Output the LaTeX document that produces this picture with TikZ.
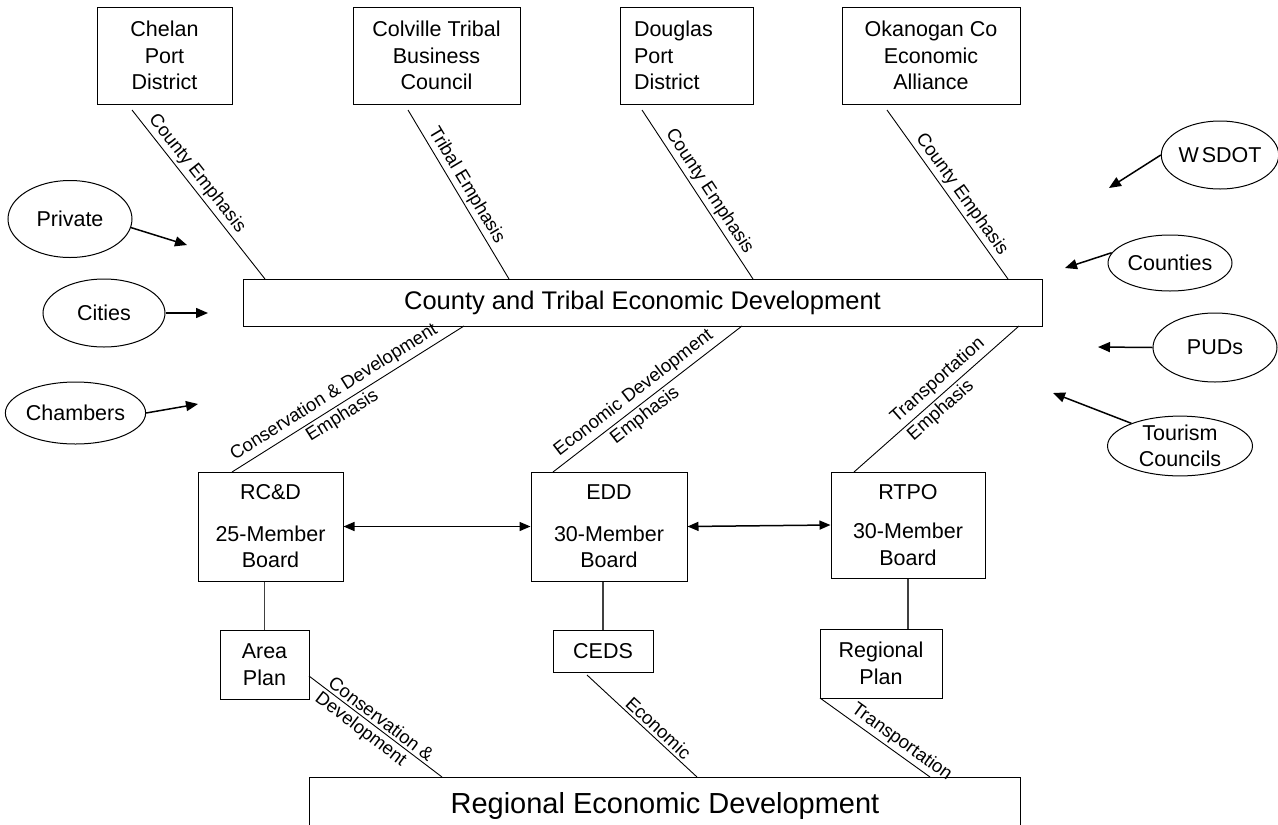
\documentclass[tikz,border=0pt]{standalone}
\usepackage{fontspec}
\setmainfont{Liberation Sans}
\usetikzlibrary{arrows.meta,shapes.geometric}
\newcommand\boxfont{\fontsize{21.5}{26.5}\selectfont}
\newcommand\labfont{\fontsize{18.5}{21}\selectfont}
\newcommand\mainfont{\fontsize{25.5}{30}\selectfont}
\newcommand\regfont{\fontsize{29}{34}\selectfont}
\begin{document}
\begin{tikzpicture}[x=1pt,y=-1pt,
  rbox/.style={draw, line width=1pt, align=center, font=\boxfont, inner sep=0pt},
  oval/.style={draw, ellipse, line width=1pt, align=center, font=\boxfont, inner sep=0pt},
  ln/.style={line width=0.9pt},
  vln/.style={line width=1.2pt, draw=black!75},
  arr/.style={line width=1.5pt, -{Triangle[length=12pt,width=10pt]}},
  darr/.style={line width=1.5pt, {Triangle[length=11pt,width=9pt]}-{Triangle[length=11pt,width=9pt]}},
  lab/.style={font=\labfont, sloped, inner sep=2.5pt}]
\useasboundingbox (0,0) rectangle (1278,825);
\clip (0,0) rectangle (1278,825);

% top boxes
\node[rbox, minimum width=135, minimum height=97] (chelan) at (164.5,55.5) {Chelan\\Port\\District};
\node[rbox, minimum width=167, minimum height=97] (colville) at (436.5,55.5) {Colville Tribal\\Business\\Council};
\node[rbox, minimum width=133, minimum height=97, text width=105, align=left] (douglas) at (686.5,55.5) {Douglas\\Port\\District};
\node[rbox, minimum width=178, minimum height=97] (okanogan) at (931,55.5) {Okanogan Co\\Economic\\Alliance};

% main box
\node[rbox, font=\mainfont, minimum width=799, minimum height=47] (main) at (642.5,302.5) {County and Tribal Economic Development};

% middle boxes
\node[rbox, minimum width=145, minimum height=109] (rcd) at (270.5,526.5) {RC\&D\\[15pt]25-Member\\Board};
\node[rbox, minimum width=156, minimum height=109] (edd) at (609,526.5) {EDD\\[15pt]30-Member\\Board};
\node[rbox, minimum width=154, minimum height=106] (rtpo) at (908,525) {RTPO\\[13pt]30-Member\\Board};

% plan boxes
\node[rbox, minimum width=89, minimum height=69] (area) at (264.5,664.5) {Area\\Plan};
\node[rbox, minimum width=100, minimum height=42] (ceds) at (603,651) {CEDS};
\node[rbox, minimum width=122, minimum height=69] (rplan) at (881,663.5) {Regional\\Plan};

% regional box
\node[rbox, font=\regfont, minimum width=711, minimum height=56, anchor=north west] (reg) at (309,777) {Regional Economic Development};

% ellipses
\node[oval, minimum width=124, minimum height=77] (private) at (70,219) {Private};
\node[oval, minimum width=122, minimum height=68] (cities) at (104,313) {Cities};
\node[oval, minimum width=135, minimum height=62] (chambers) at (75.5,413) {Chambers};
\node[oval, minimum width=112, minimum height=68] (wsdot) at (1220,155) {W\kern3pt SDOT};
\node[oval, minimum width=124, minimum height=56] (counties) at (1170,263) {Counties};
\node[oval, minimum width=124, minimum height=69] (puds) at (1215,347.5) {PUDs};
\node[oval, minimum width=145, minimum height=58] (tourism) at (1180,446) {Tourism\\Councils};

% arrow free ends
\coordinate (pa) at (187,245);
\coordinate (ca) at (208,313);
\coordinate (cha) at (198,404);
\coordinate (wa) at (1109,188);
\coordinate (coa) at (1065,268);
\coordinate (pua) at (1098,347);
\coordinate (ta) at (1053,393);

\draw[arr] (private.-8) -- (pa);
\draw[arr] (cities.east) -- (ca);
\draw[arr] (chambers.east) -- (cha);
\draw[arr] (wsdot.west) -- (wa);
\draw[arr] (counties.170) -- (coa);
\draw[arr] (puds.west) -- (pua);
\draw[arr] (tourism.155) -- (ta);

% top fishbone lines
\coordinate (c1a) at (132,110); \coordinate (c1b) at (265,279);
\coordinate (c2a) at (408,110); \coordinate (c2b) at (509,279);
\coordinate (c3a) at (642,110); \coordinate (c3b) at (753,279);
\coordinate (c4a) at (887,110); \coordinate (c4b) at (1008,279);
\draw[ln] (c1a) -- node[lab, above, pos=0.42] {County Emphasis} (c1b);
\draw[ln] (c2a) -- node[lab, above, pos=0.48] {Tribal Emphasis} (c2b);
\draw[ln] (c3a) -- node[lab, above, pos=0.52] {County Emphasis} (c3b);
\draw[ln] (c4a) -- node[lab, above, pos=0.54] {County Emphasis} (c4b);

% middle fishbone lines
\coordinate (m1a) at (232,472); \coordinate (m1b) at (464,326);
\coordinate (m2a) at (553,472); \coordinate (m2b) at (742,326);
\coordinate (m3a) at (854,472); \coordinate (m3b) at (1019,326);
\draw[ln] (m1a) -- node[lab, above, pos=0.47, inner sep=4pt] {Conservation \& Development} node[lab, below, pos=0.45] {Emphasis} (m1b);
\draw[ln] (m2a) -- node[lab, above, pos=0.47, inner sep=4pt] {Economic Development} node[lab, below, pos=0.45] {Emphasis} (m2b);
\draw[ln] (m3a) -- node[lab, above, pos=0.56, inner sep=4pt] {Transportation} node[lab, below, pos=0.48] {Emphasis} (m3b);

% double arrows
\draw[darr] (rcd.east) -- (edd.west);
\draw[darr] (edd.east) -- (rtpo.west);

% vertical connectors
\draw[vln] (area.north) -- (area.north |- rcd.south);
\draw[vln] (ceds.north) -- (ceds.north |- edd.south);
\draw[vln] (rtpo.south) -- (rtpo.south |- rplan.north);

% lower fishbone lines
\coordinate (l1a) at (309,676); \coordinate (l1b) at (442,777);
\coordinate (l2a) at (587,675); \coordinate (l2b) at (697,777);
\coordinate (l3a) at (820,698); \coordinate (l3b) at (930,777);
\draw[ln] (l1a) -- node[lab, above, pos=0.50] {Conservation \&} node[lab, below, pos=0.44] {Development} (l1b);
\draw[ln] (l2a) -- node[lab, above, pos=0.59] {Economic} (l2b);
\draw[ln] (l3a) -- node[lab, above, pos=0.68] {Transportation} (l3b);
\end{tikzpicture}
\end{document}
